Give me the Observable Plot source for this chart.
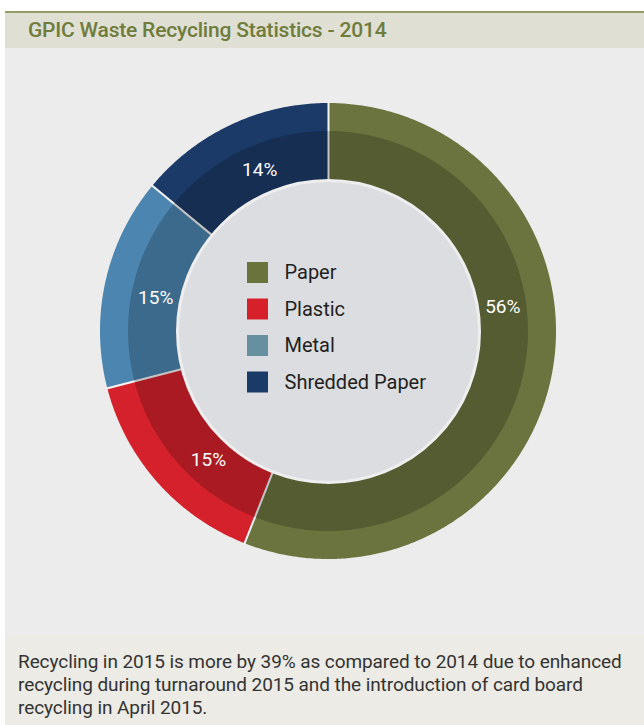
<!DOCTYPE html>
<html>
<head>
<meta charset="utf-8">
<script src="https://cdn.jsdelivr.net/npm/d3@7"></script>
<script src="https://cdn.jsdelivr.net/npm/@observablehq/plot@0.6"></script>
<style>
  html, body { margin: 0; padding: 0; background: #ffffff; }
  #wrap { margin-left: 5px; margin-top: 11px; width: 639px; border-top: 2px solid #959d69; font-family: Roboto, "Noto Sans", sans-serif; }
  #title { background: #dfdfd3; height: 35px; line-height: 35px; padding-left: 23px; font-size: 21px; font-weight: 500; color: #6f7c3c; box-sizing: border-box; letter-spacing: -0.2px; }
  #chart svg { display: block; }
  #caption { background: #ecebe5; height: 90px; box-sizing: border-box; padding: 15px 10px 0 13px; font-size: 19px; line-height: 23px; color: #333333; letter-spacing: -0.08px; }
</style>
</head>
<body>
<div id="wrap">
  <div id="title">GPIC Waste Recycling Statistics - 2014</div>
  <div id="chart"></div>
  <div id="caption">Recycling in 2015 is more by 39% as compared to 2014 due to enhanced recycling during turnaround 2015 and the introduction of card board recycling in April 2015.</div>
</div>
<script>
// ---- data ----
const categories = ["Paper", "Plastic", "Metal", "Shredded Paper"];
const shares = [56, 15, 15, 14];
const sliceLabels = ["56%", "15%", "15%", "14%"];
const sliceColors = ["#6b743e", "#d5212b", "#4c85af", "#1b3a67"];
const legendColors = ["#6b733d", "#d6202a", "#6690a0", "#1a3a68"];

// ---- layout ----
const W = 639, H = 587, CX = 323, CY = 283;
const R_OUT = 228, R_MID = 200, R_IN = 150, R_LABEL = 176;
const labelAngles = [82, 223, 281, 337]; // degrees clockwise from top
const total = d3.sum(shares);
const pt = (r, a) => [r * Math.sin(a), -r * Math.cos(a)];

let cum = 0;
const arcPts = [];
const bounds = [];
categories.forEach((cat, i) => {
  const a0 = cum / total * 2 * Math.PI;
  cum += shares[i];
  const a1 = cum / total * 2 * Math.PI;
  bounds.push(a0);
  const n = Math.max(2, Math.ceil((a1 - a0) / 0.01));
  for (let k = 0; k <= n; k++) {
    const a = a0 + (a1 - a0) * k / n;
    const [ox, oy] = pt(R_OUT, a), [ix, iy] = pt(R_IN, a);
    arcPts.push({cat, color: sliceColors[i], ox, oy, ix, iy});
  }
});
const ringPts = d3.range(0, 361).map(deg => {
  const a = deg * Math.PI / 180;
  const [ox, oy] = pt(R_MID, a), [ix, iy] = pt(R_IN - 1, a);
  return {ox, oy, ix, iy};
});
const labelData = categories.map((cat, i) => {
  const a = labelAngles[i] * Math.PI / 180;
  const [x, y] = pt(R_LABEL, a);
  return {x, y, text: sliceLabels[i]};
});
const legendData = categories.map((cat, i) => ({cat, color: legendColors[i], y: -58.5 + i * 36.5}));

const chart = Plot.plot({
  width: W, height: H, margin: 0,
  x: {domain: [-CX, W - CX], range: [0, W], axis: null},
  y: {domain: [-CY, H - CY], range: [0, H], axis: null},
  color: {type: "identity"},
  style: {background: "#ececec", fontFamily: "Roboto, 'Noto Sans', sans-serif"},
  marks: [
    Plot.area(arcPts, {x1: "ox", y1: "oy", x2: "ix", y2: "iy", z: "cat", fill: "color", curve: "linear"}),
    Plot.link(bounds, {x1: a => pt(R_IN, a)[0], y1: a => pt(R_IN, a)[1], x2: a => pt(R_OUT + 1, a)[0], y2: a => pt(R_OUT + 1, a)[1], stroke: "#f4f4f4", strokeWidth: 2}),
    Plot.area(ringPts, {x1: "ox", y1: "oy", x2: "ix", y2: "iy", fill: "#000000", fillOpacity: 0.2, curve: "linear"}),
    Plot.dot([0], {x: () => 0, y: () => 0, r: 151, fill: "#dcdde0", stroke: "#eeeeee", strokeWidth: 3}),
    Plot.rect(legendData, {x1: () => -81, x2: () => -60, y1: d => d.y - 10.5, y2: d => d.y + 10.5, fill: "color"}),
    Plot.text(legendData, {x: () => -44, y: "y", text: "cat", textAnchor: "start", fontSize: 20, fill: "#231f20"}),
    Plot.text(labelData, {x: "x", y: "y", text: "text", fontSize: 19, fill: "#ffffff"})
  ]
});
document.getElementById("chart").appendChild(chart);
</script>
</body>
</html>
